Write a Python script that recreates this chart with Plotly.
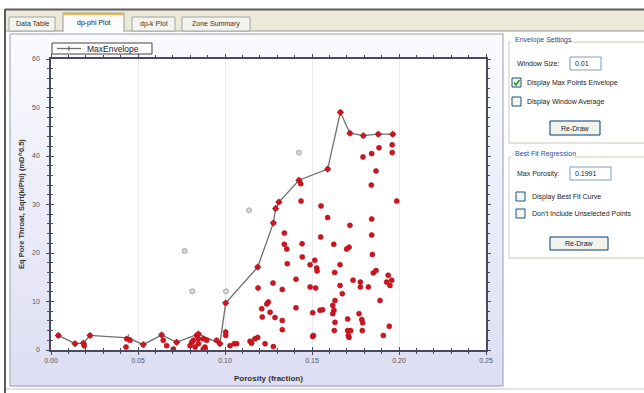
import plotly.graph_objects as go

# ---- data -------------------------------------------------------------
# Max-points envelope (porosity fraction, equivalent pore throat)
env_phi = [0.0042, 0.0138, 0.0186, 0.0224, 0.0444, 0.0530, 0.0636, 0.0722, 0.0847,
           0.0971, 0.1004, 0.1188, 0.1278, 0.1291, 0.1310, 0.1425, 0.1590, 0.1663,
           0.1718, 0.1795, 0.1881, 0.1964]
env_pt = [3.0, 1.3, 1.4, 3.0, 2.5, 1.1, 3.1, 1.6, 3.3,
          1.3, 9.7, 17.1, 26.2, 29.2, 30.5, 35.0, 37.3, 49.0,
          44.7, 44.2, 44.5, 44.5]

# Selected samples
sel_phi = [0.1437, 0.1552, 0.1590, 0.1341, 0.1341, 0.1355, 0.1443, 0.1550, 0.1625, 0.1718,
           0.1713, 0.1699, 0.1444, 0.1358, 0.1489, 0.1516, 0.1527, 0.1529, 0.1661, 0.1630,
           0.1408, 0.1276, 0.1190, 0.1329, 0.1489, 0.1521, 0.1661, 0.1674, 0.1736, 0.1778,
           0.1778, 0.1824, 0.1852, 0.1868, 0.1847, 0.1843, 0.1843, 0.1841, 0.1868, 0.1793,
           0.1843, 0.1885, 0.1961, 0.1961, 0.1987, 0.1938, 0.1958, 0.1948, 0.1929, 0.1891,
           0.1944, 0.1910, 0.1786, 0.1791, 0.1789, 0.1770, 0.1705, 0.1705, 0.1713, 0.1722,
           0.1632, 0.1619, 0.1626, 0.1619, 0.1632, 0.1628, 0.1546, 0.1561, 0.1504, 0.1504,
           0.1408, 0.1329, 0.1329, 0.1287, 0.1249, 0.1240, 0.1259, 0.1211, 0.1214, 0.1188,
           0.1172, 0.1144, 0.1153, 0.1230, 0.1278, 0.1004, 0.1004, 0.1029, 0.1053, 0.1067,
           0.0837, 0.0847, 0.0818, 0.0875, 0.0828, 0.0885, 0.0042, 0.0138, 0.0186, 0.0191,
           0.0224, 0.0435, 0.0454, 0.0431, 0.0530, 0.0636, 0.0645, 0.0665, 0.0703, 0.0722,
           0.0809, 0.0799, 0.0847, 0.0847, 0.0895, 0.0875, 0.0952, 0.0971, 0.1188, 0.1278,
           0.1291, 0.1310, 0.1425, 0.1435, 0.1590, 0.1663, 0.1718, 0.1795, 0.1881, 0.1964,
           0.1004, 0.1508, 0.1709]
sel_pt = [30.7, 29.7, 27.3, 24.1, 21.8, 20.8, 21.9, 23.3, 21.8, 25.7,
          21.2, 20.8, 19.2, 17.8, 17.6, 18.5, 16.9, 16.3, 17.6, 16.0,
          14.6, 13.8, 12.8, 12.5, 13.0, 12.8, 13.3, 11.6, 14.4, 14.0,
          13.0, 13.0, 15.9, 16.4, 19.7, 23.7, 27.0, 34.0, 36.9, 39.8,
          40.5, 41.7, 42.3, 40.7, 30.7, 15.4, 14.4, 13.3, 14.0, 10.2,
          4.9, 3.0, 6.3, 5.6, 4.0, 7.5, 6.4, 4.0, 2.6, 4.0,
          10.2, 9.2, 8.2, 7.5, 5.7, 4.0, 8.2, 8.3, 7.7, 2.8,
          8.7, 6.1, 4.2, 6.7, 9.9, 9.5, 7.8, 8.5, 6.8, 2.6,
          2.3, 1.8, 1.4, 1.3, 0.7, 3.7, 3.0, 0.9, 1.3, 1.3,
          3.0, 2.3, 2.0, 2.3, 0.6, 0.6, 3.0, 1.3, 1.4, 0.9,
          3.0, 2.3, 2.0, 0.6, 1.1, 3.1, 2.0, 0.9, 0.2, 1.6,
          1.6, 0.9, 3.3, 1.3, 2.0, 0.2, 2.0, 1.3, 17.1, 26.2,
          29.2, 30.5, 35.0, 34.3, 37.3, 49.0, 44.7, 44.2, 44.5, 44.5,
          9.7, 3.0, 3.0]

# Unselected samples
uns_phi = [0.0768, 0.0812, 0.1006, 0.1138, 0.1425]
uns_pt = [20.4, 12.1, 12.1, 28.8, 40.7]

x_ticks = [0.00, 0.05, 0.10, 0.15, 0.20, 0.25]
x_labels = ["0.00", "0.05", "0.10", "0.15", "0.20", "0.25"]
y_ticks = [0, 10, 20, 30, 40, 50, 60]

tab_names = ["Data Table", "dp-phi Plot", "dp-k Plot", "Zone Summary"]
legend_label = "MaxEnvelope"

# ---- pixel <-> paper helpers -------------------------------------------
W, H = 644, 393
PL, PR, PT, PB = 51, 486, 59, 350


def fx(p):
    return (p - PL) / (PR - PL)


def fy(p):
    return (PB - p) / (PB - PT)


FONT = "Liberation Sans, Arial, sans-serif"
AXIS = "#4a4a5e"
ENV = "#6e6e6e"

fig = go.Figure()

fig.add_trace(go.Scatter(
    x=env_phi, y=env_pt, mode="lines+markers", name=legend_label, showlegend=False,
    line=dict(color=ENV, width=1.3),
    marker=dict(symbol="cross-thin", size=5, line=dict(color="#555555", width=1)),
))
fig.add_trace(go.Scatter(
    x=uns_phi, y=uns_pt, mode="markers", showlegend=False,
    marker=dict(size=5, color="#d8d8d8", line=dict(color="#a8a8a8", width=1)),
))
fig.add_trace(go.Scatter(
    x=sel_phi, y=sel_pt, mode="markers", showlegend=False,
    marker=dict(size=5, color="#d3141f", line=dict(color="#a80f18", width=0.6)),
))
# companion axes carrying the inward half of the cross ticks
fig.add_trace(go.Scatter(x=[None], y=[None], xaxis="x2", yaxis="y2",
                         showlegend=False, hoverinfo="skip"))

tickfont = dict(family=FONT, size=7, color="#555555")
fig.update_layout(
    width=W, height=H, autosize=False,
    margin=dict(l=PL, r=W - PR, t=PT, b=H - PB, pad=0),
    paper_bgcolor="white", plot_bgcolor="white",
    xaxis=dict(range=[0, 0.25], tickvals=x_ticks, ticktext=x_labels,
               ticks="outside", ticklen=3, tickwidth=1, tickcolor=AXIS,
               minor=dict(dtick=0.01, tick0=0, ticks="outside", ticklen=2, tickcolor=AXIS),
               showgrid=True, gridcolor="#ececf0", gridwidth=1, zeroline=False,
               showline=True, linecolor=AXIS, linewidth=1.5, mirror="ticks",
               tickfont=tickfont, automargin=False),
    yaxis=dict(range=[0, 60], tickvals=y_ticks,
               ticks="outside", ticklen=3, tickwidth=1, tickcolor=AXIS,
               minor=dict(dtick=2, tick0=0, ticks="outside", ticklen=2, tickcolor=AXIS),
               showgrid=False, zeroline=False, ticklabelstandoff=5,
               showline=True, linecolor=AXIS, linewidth=1.5, mirror="ticks",
               tickfont=tickfont, automargin=False),
    xaxis2=dict(overlaying="x", matches="x", range=[0, 0.25], tickvals=x_ticks,
                ticks="inside", ticklen=3, tickcolor=AXIS, showticklabels=False,
                minor=dict(dtick=0.01, tick0=0, ticks="inside", ticklen=2, tickcolor=AXIS),
                showgrid=False, zeroline=False, showline=False),
    yaxis2=dict(overlaying="y", matches="y", range=[0, 60], tickvals=y_ticks,
                ticks="inside", ticklen=3, tickcolor=AXIS, showticklabels=False,
                minor=dict(dtick=2, tick0=0, ticks="inside", ticklen=2, tickcolor=AXIS),
                showgrid=False, zeroline=False, showline=False),
    showlegend=False,
)

shapes = []
ann = []


def rect(x0, y0, x1, y1, fill=None, line=None, lw=1, layer="below"):
    shapes.append(dict(type="rect", xref="paper", yref="paper",
                       x0=fx(x0), x1=fx(x1), y0=fy(y0), y1=fy(y1),
                       fillcolor=fill or "rgba(0,0,0,0)",
                       line=dict(color=line or "rgba(0,0,0,0)", width=lw if line else 0),
                       layer=layer))


def hline(x0, x1, y, color, lw=1, dash="solid", layer="below"):
    shapes.append(dict(type="line", xref="paper", yref="paper",
                       x0=fx(x0), x1=fx(x1), y0=fy(y), y1=fy(y),
                       line=dict(color=color, width=lw, dash=dash), layer=layer))


def vline(x, y0, y1, color, lw=1, layer="below"):
    shapes.append(dict(type="line", xref="paper", yref="paper",
                       x0=fx(x), x1=fx(x), y0=fy(y0), y1=fy(y1),
                       line=dict(color=color, width=lw), layer=layer))


def text(x, y, s, size=7, color="#222222", anchor="left", bold=False, angle=0):
    ann.append(dict(x=fx(x), y=fy(y), xref="paper", yref="paper", text=s,
                    showarrow=False, xanchor=anchor, yanchor="middle",
                    textangle=angle,
                    font=dict(family=FONT, size=size, color=color,
                              weight="bold" if bold else "normal")))


# window frame and tab strip
rect(6, 10, 650, 31, fill="#ece9d8")
rect(6, 31, 650, 400, fill="white")
hline(5, 650, 9.5, "#5c5c5c", 2)
vline(5, 9, 400, "#5c5c5c", 2)
hline(6, 650, 31, "#919b9c", 1)

tab_boxes = [(9, 55), (63, 124), (132, 175), (182, 250)]
for i, (name, (a, b)) in enumerate(zip(tab_names, tab_boxes)):
    if i == 1:
        rect(a, 13, b, 31.5, fill="#fcfcfe", line="#919b9c")
        hline(a + 1, b - 1, 14, "#f2b240", 2)
        hline(a + 0.5, b - 0.5, 31.5, "#fcfcfe", 2)
        text((a + b) / 2, 22.5, name, anchor="center")
    else:
        rect(a, 17, b, 31, fill="#f4f3ee", line="#9ea6a7")
        text((a + b) / 2, 23.5, name, anchor="center", color="#333333")

# chart panel with a soft lavender gradient
top, bot, n = 34, 386, 22
c0, c1 = (250, 250, 254), (222, 222, 244)
for k in range(n):
    t = k / (n - 1)
    col = "rgb(%d,%d,%d)" % tuple(round(c0[j] + (c1[j] - c0[j]) * t) for j in range(3))
    y0 = top + (bot - top) * k / n
    y1 = top + (bot - top) * (k + 1) / n
    rect(10, y0, 503, y1 + 0.5, fill=col)
rect(10, 34, 503, 386, line="#9c9cb4", lw=1)
rect(PL, PT, PR, PB, fill="white")
hline(6, 650, 389, "#c8c8c8", 1)

# legend box for the envelope series
rect(52, 43, 152, 54, fill="white", line="#444444")
hline(57, 81, 48.5, ENV, 1.3)
vline(69, 46, 51, "#555555", 1)
text(85, 48.7, legend_label, size=8.5, color="#222222")

# axis titles
text(268, 378, "Porosity (fraction)", size=8, color="#333333", anchor="center", bold=True)
text(21, 204, "Eq Pore Throat, Sqrt(k/Phi) (mD^0.5)", size=7.5, color="#333333",
     anchor="center", bold=True, angle=-90)

# settings panel
GB = "#c9c9b8"
BLUE = "#2a4f9c"
rect(509, 42, 650, 143, line=GB)
rect(511, 35, 546, 45, fill="white")
text(513, 39.5, "Envelope Settings", color=BLUE)
text(515, 63.5, "Window Size:")
rect(570, 57, 601, 70, fill="white", line="#7f9db9")
text(573, 63.5, "0.01")


def checkbox(x, y, checked=False):
    rect(x, y, x + 9, y + 9, fill="#f4f4f0", line="#1c5180")
    if checked:
        shapes.append(dict(type="path", xref="paper", yref="paper",
                           path="M %f,%f L %f,%f L %f,%f" % (fx(x + 2), fy(y + 4.5), fx(x + 4),
                                                              fy(y + 7), fx(x + 7.5), fy(y + 2)),
                           line=dict(color="#21a121", width=1.6), layer="below"))


def button(x0, y0, x1, y1, s):
    rect(x0, y0, x1, y1, fill="#f3f3ee", line="#003c74")
    text((x0 + x1) / 2, (y0 + y1) / 2, s, anchor="center")


checkbox(512, 78, True)
text(525, 82.5, "Display Max Points Envelope")
checkbox(512, 97)
text(525, 101.5, "Display Window Average")
button(550, 121, 600, 135, "Re-Draw")

rect(509, 157, 650, 258, line=GB)
rect(511, 149, 574, 159, fill="white")
text(513, 154, "Best Fit Regression", color=BLUE)
text(515, 173.5, "Max Porosity:")
rect(570, 167, 611, 180, fill="white", line="#7f9db9")
text(573, 173.5, "0.1991")
checkbox(516, 192)
text(530, 196.5, "Display Best Fit Curve")
checkbox(516, 209)
text(530, 213.5, "Don't Include Unselected Points")
button(550, 237, 608, 250, "Re-Draw")

fig.update_layout(shapes=shapes, annotations=ann)
fig.write_html("out.html")
